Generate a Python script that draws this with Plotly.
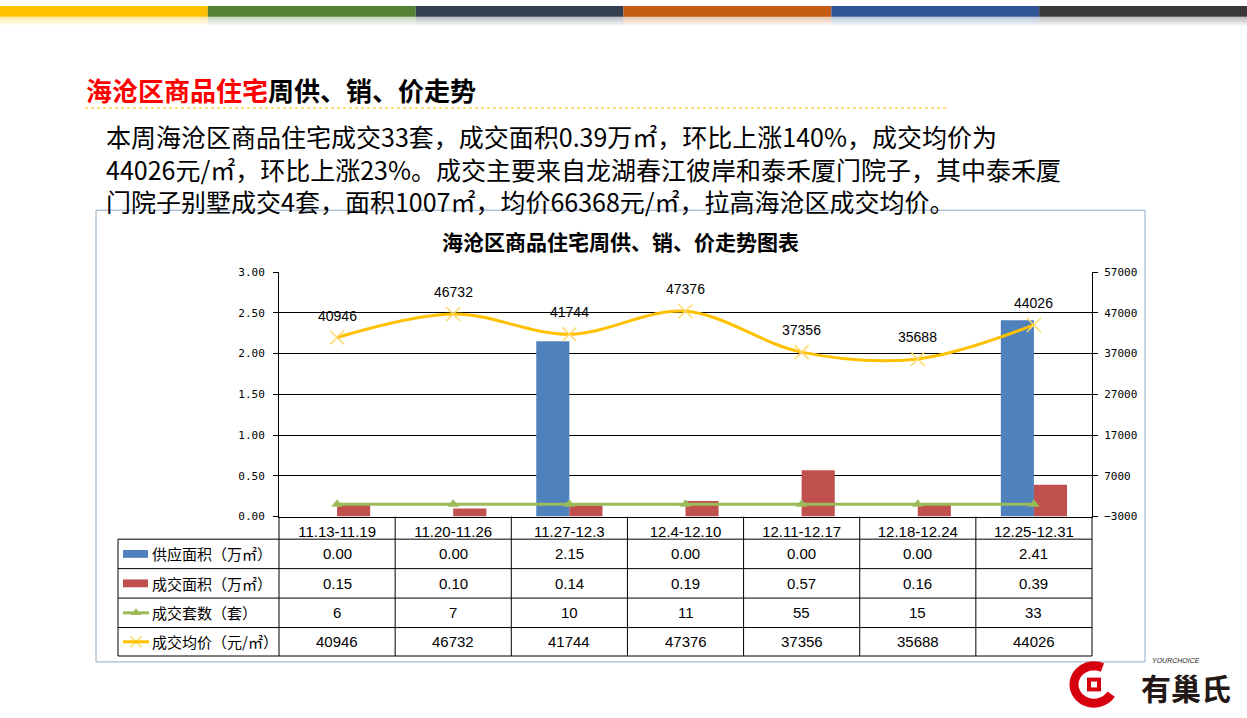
import math
import plotly.graph_objects as go

# ---------------- data ----------------
categories = ["11.13-11.19", "11.20-11.26", "11.27-12.3", "12.4-12.10",
              "12.11-12.17", "12.18-12.24", "12.25-12.31"]
supply_area = [0.00, 0.00, 2.15, 0.00, 0.00, 0.00, 2.41]      # 供应面积（万㎡）
sold_area = [0.15, 0.10, 0.14, 0.19, 0.57, 0.16, 0.39]        # 成交面积（万㎡）
sold_units = [6, 7, 10, 11, 55, 15, 33]                       # 成交套数（套）
avg_price = [40946, 46732, 41744, 47376, 37356, 35688, 44026]  # 成交均价（元/㎡）

series_names = ["供应面积（万㎡）", "成交面积（万㎡）", "成交套数（套）", "成交均价（元/㎡）"]
left_ticks = [0, 0.5, 1.0, 1.5, 2.0, 2.5, 3.0]
right_ticks = [-3000, 7000, 17000, 27000, 37000, 47000, 57000]

page_title_red = "海沧区商品住宅"
page_title_black = "周供、销、价走势"
chart_title = "海沧区商品住宅周供、销、价走势图表"
paragraph = [
    "本周海沧区商品住宅成交33套，成交面积0.39万㎡，环比上涨140%，成交均价为",
    "44026元/㎡，环比上涨23%。成交主要来自龙湖春江彼岸和泰禾厦门院子，其中泰禾厦",
    "门院子别墅成交4套，面积1007㎡，均价66368元/㎡，拉高海沧区成交均价。",
]
bar_colors = ["#FFC000", "#548235", "#333F50", "#C55A11", "#2F5597", "#3A3838"]

BLUE, RED, GREEN, GOLD = "#4F81BD", "#C0504D", "#9BBB59", "#FFC000"

W, H = 1247, 718
PL, PR, PT, PB = 279, 1092, 271, 520   # plot area in pixels


def px(x):
    return x / W


def py(y):
    return 1 - y / H


CJK = "Noto Sans CJK SC"
NUM = "Liberation Sans"

fig = go.Figure()

fig.add_trace(go.Bar(x=categories, y=supply_area, name=series_names[0],
                     marker=dict(color=BLUE, line=dict(width=0)), yaxis="y"))
fig.add_trace(go.Bar(x=categories, y=sold_area, name=series_names[1],
                     marker=dict(color=RED, line=dict(width=0)), yaxis="y"))
fig.add_trace(go.Scatter(x=categories, y=sold_units, name=series_names[2], yaxis="y2",
                         mode="lines+markers", line=dict(color=GREEN, width=3),
                         marker=dict(symbol="triangle-up", size=10, color=GREEN)))
fig.add_trace(go.Scatter(x=categories, y=avg_price, name=series_names[3], yaxis="y2",
                         mode="lines+markers",
                         line=dict(color=GOLD, width=3, shape="spline", smoothing=1.0),
                         marker=dict(symbol="x-thin", size=14,
                                     line=dict(color="#FFD966", width=1.5))))

shapes = []
annotations = []

# chart container box
shapes.append(dict(type="rect", xref="paper", yref="paper", x0=px(96), x1=px(1145),
                   y0=py(208), y1=py(668), line=dict(color="#8EAACB", width=1),
                   fillcolor="white", layer="below"))

# top colour bar with fade
seg = W / len(bar_colors)
for i, c in enumerate(bar_colors):
    shapes.append(dict(type="rect", xref="paper", yref="paper", x0=px(i * seg), x1=px((i + 1) * seg),
                       y0=py(0), y1=py(11), line=dict(width=0), fillcolor=c, layer="below"))
    for k in range(9):
        shapes.append(dict(type="rect", xref="paper", yref="paper", x0=px(i * seg),
                           x1=px((i + 1) * seg), y0=py(11 + k), y1=py(12 + k),
                           line=dict(width=0), fillcolor=c, opacity=0.35 * (1 - k / 9),
                           layer="below"))

# dashed line under page title
shapes.append(dict(type="line", xref="paper", yref="paper", x0=px(85), x1=px(948),
                   y0=py(104), y1=py(104), line=dict(color="#FFC000", width=1, dash="dot")))

# page title
annotations.append(dict(xref="paper", yref="paper", x=px(84), y=py(85), xanchor="left",
                        yanchor="middle", showarrow=False,
                        text=f"<b><span style='color:#FF0000'>{page_title_red}</span>{page_title_black}</b>",
                        font=dict(family=CJK, size=26, color="#000000")))

# paragraph (one text block, three lines)
annotations.append(dict(xref="paper", yref="paper", x=px(104), y=py(166),
                        xanchor="left", yanchor="middle", showarrow=False, align="left",
                        text="<br>".join(paragraph),
                        font=dict(family=CJK, size=25, color="#000000")))

# chart title
annotations.append(dict(xref="paper", yref="paper", x=px(620), y=py(239), xanchor="center",
                        yanchor="middle", showarrow=False, text=f"<b>{chart_title}</b>",
                        font=dict(family=CJK, size=21, color="#000000")))

# price data labels
for c, v in zip(categories, avg_price):
    annotations.append(dict(xref="x", yref="y2", x=c, y=v, yshift=22, showarrow=False,
                            text=str(v), font=dict(family=NUM, size=14, color="#000000")))

# ---------- data table ----------
n = len(categories)
colw = (PR - PL) / n
row_y = [PB, 543, 573, 603, 633, 662]
TL = 118
black = dict(color="#000000", width=1)
for i in range(n + 1):
    xx = PL + i * colw
    shapes.append(dict(type="line", xref="paper", yref="paper", x0=px(xx), x1=px(xx),
                       y0=py(PB), y1=py(row_y[-1]), line=black))
shapes.append(dict(type="line", xref="paper", yref="paper", x0=px(TL), x1=px(TL),
                   y0=py(row_y[1]), y1=py(row_y[-1]), line=black))
for yy in row_y[1:]:
    shapes.append(dict(type="line", xref="paper", yref="paper", x0=px(TL), x1=px(PR),
                       y0=py(yy), y1=py(yy), line=black))

table_rows = [
    [f"{v:.2f}" for v in supply_area],
    [f"{v:.2f}" for v in sold_area],
    [str(v) for v in sold_units],
    [str(v) for v in avg_price],
]
for r, (name, vals) in enumerate(zip(series_names, table_rows)):
    yc = (row_y[r + 1] + row_y[r + 2]) / 2
    annotations.append(dict(xref="paper", yref="paper", x=px(150), y=py(yc), xanchor="left",
                            yanchor="middle", showarrow=False, text=name,
                            font=dict(family=CJK, size=15, color="#000000")))
    for i, v in enumerate(vals):
        annotations.append(dict(xref="paper", yref="paper", x=px(PL + (i + 0.5) * colw),
                                y=py(yc), xanchor="center", yanchor="middle", showarrow=False,
                                text=v, font=dict(family=NUM, size=15, color="#000000")))
    # legend keys
    if r == 0 or r == 1:
        shapes.append(dict(type="rect", xref="paper", yref="paper", x0=px(123), x1=px(148),
                           y0=py(yc - 4), y1=py(yc + 4), line=dict(width=0),
                           fillcolor=BLUE if r == 0 else RED))
    else:
        shapes.append(dict(type="line", xref="paper", yref="paper", x0=px(123), x1=px(149),
                           y0=py(yc), y1=py(yc),
                           line=dict(color=GREEN if r == 2 else GOLD, width=3)))

# legend key markers (triangle / x)
fig.add_trace(go.Scatter(x=[px(136)], y=[py((row_y[3] + row_y[4]) / 2)], xaxis="x3", yaxis="y3",
                         mode="markers", marker=dict(symbol="triangle-up", size=9, color=GREEN),
                         showlegend=False, hoverinfo="skip"))
fig.add_trace(go.Scatter(x=[px(136)], y=[py((row_y[4] + row_y[5]) / 2)], xaxis="x3", yaxis="y3",
                         mode="markers",
                         marker=dict(symbol="x-thin", size=11, line=dict(color="#FFD966", width=1.5)),
                         showlegend=False, hoverinfo="skip"))

# logo
pts = []
cx, cy, rad = 1094, 691, 20
for k in range(0, 41):
    a = math.radians(65 + k * 6.6)
    pts.append((cx + rad * math.cos(a), cy - rad * math.sin(a) * 0.95))
path = "M " + " L ".join(f"{px(x):.5f},{py(y):.5f}" for x, y in pts)
shapes.append(dict(type="path", xref="paper", yref="paper", path=path,
                   line=dict(color="#D7000F", width=9)))
shapes.append(dict(type="rect", xref="paper", yref="paper", x0=px(1087), x1=px(1101),
                   y0=py(698), y1=py(684), line=dict(width=0), fillcolor="#D7000F"))
shapes.append(dict(type="rect", xref="paper", yref="paper", x0=px(1091), x1=px(1097),
                   y0=py(694), y1=py(688), line=dict(width=0), fillcolor="#FFFFFF"))
annotations.append(dict(xref="paper", yref="paper", x=px(1186), y=py(694), xanchor="center",
                        yanchor="middle", showarrow=False, text="<b>有巢氏</b>",
                        font=dict(family=CJK, size=30, color="#231815")))
annotations.append(dict(xref="paper", yref="paper", x=px(1176), y=py(667), xanchor="center",
                        yanchor="middle", showarrow=False, text="<i>YOURCHOICE</i>",
                        font=dict(family=NUM, size=7, color="#231815")))

fig.update_layout(
    width=W, height=H,
    margin=dict(l=0, r=0, t=0, b=0),
    paper_bgcolor="white", plot_bgcolor="rgba(0,0,0,0)",
    showlegend=False, barmode="group", bargap=0.43, bargroupgap=0,
    hovermode=False,
    xaxis=dict(domain=[px(PL), px(PR)], type="category", showline=True, linecolor="#000000",
               linewidth=1, ticks="", showgrid=False, zeroline=False,
               tickfont=dict(family=NUM, size=15, color="#000000"), ticklabelstandoff=1),
    yaxis=dict(domain=[py(PB), py(PT)], range=[0, 3], tickvals=left_ticks, tickformat=".2f",
               showline=True, linecolor="#000000", linewidth=1, ticks="outside", ticklen=5,
               tickcolor="#000000", showgrid=True, gridcolor="#000000", gridwidth=1,
               zeroline=False, tickfont=dict(family="DejaVu Sans Mono", size=11, color="#000000"),
               ticklabelstandoff=6),
    yaxis2=dict(overlaying="y", side="right", range=[-3000, 57000], tickvals=right_ticks,
                tickformat="d", showline=True, linecolor="#000000", linewidth=1, ticks="outside",
                ticklen=5, tickcolor="#000000", showgrid=False, zeroline=False,
                tickfont=dict(family="DejaVu Sans Mono", size=11, color="#000000"),
                ticklabelstandoff=4),
    xaxis3=dict(domain=[0, 1], range=[0, 1], visible=False, anchor="y3"),
    yaxis3=dict(domain=[0, 1], range=[0, 1], visible=False, anchor="x3"),
    shapes=shapes, annotations=annotations,
)

fig.write_html("out.html", config=dict(displayModeBar=False),
               post_script="document.body.style.margin='0';document.body.style.overflow='hidden';")
